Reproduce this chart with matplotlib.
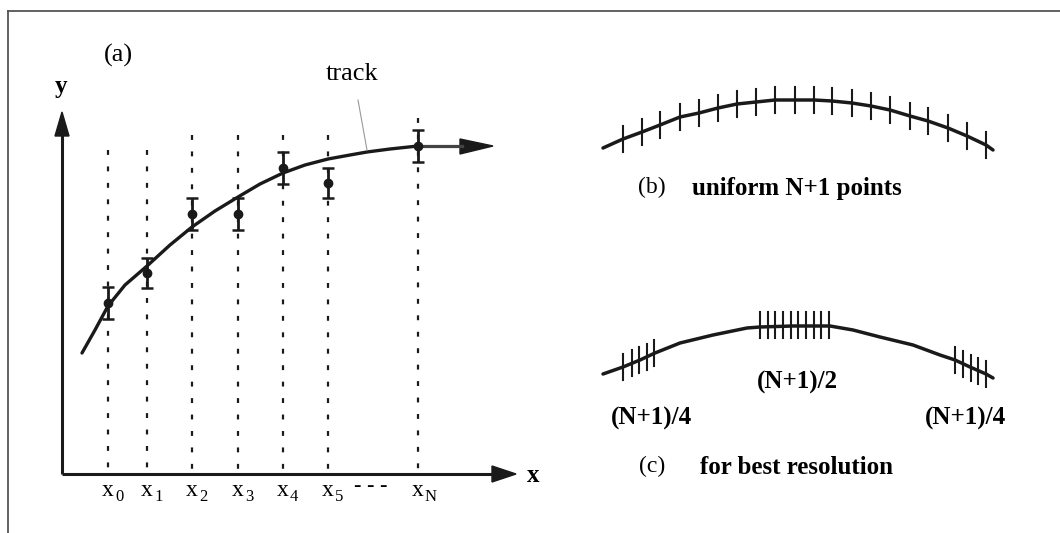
import numpy as np
import matplotlib.pyplot as plt
from matplotlib.patches import Polygon

# panel (a): sample positions, measured hits, errors, fitted track
x_pos = [108, 147, 192, 238, 283, 328, 418]
x_names = ["0", "1", "2", "3", "4", "5", "N"]
y_meas = [303, 273, 214, 214, 168, 183, 146]
y_err = [16, 15, 16, 16, 16, 15, 16]
grid_top = [150, 150, 135, 135, 135, 135, 118]

track_x = [82, 95, 108, 125, 147, 170, 192, 215, 238, 260, 283, 305, 328, 350, 367, 390, 418]
track_y = [353, 330, 306, 285, 266, 245, 227, 211, 197, 184, 173, 165, 159, 155, 152, 149, 146]

# panel (b): uniform sampling
b_x = [603, 623, 642, 660, 680, 699, 718, 737, 756, 775, 795, 814, 832, 852, 871, 890, 910, 928, 948, 967, 986, 993]
b_y = [148, 139, 132, 125, 117, 113, 108, 104, 102, 100, 100, 100, 101, 103, 106, 110, 116, 121, 128, 136, 145, 150]

# panel (c): clustered sampling
c_x = [603, 623, 640, 655, 680, 713, 747, 760, 793, 830, 853, 880, 913, 940, 955, 970, 986, 993]
c_y = [374, 367, 360, 353, 343, 335, 328, 327, 326, 326, 330, 337, 345, 355, 360, 367, 374, 378]
c_tick_x = [623, 632, 639, 647, 654,
            760, 768, 775, 783, 791, 798, 806, 814, 821, 829,
            955, 963, 971, 978, 986]
c_tick_y = [367, 363, 360, 357, 353,
            325, 325, 325, 325, 325, 325, 325, 325, 325, 325,
            360, 364, 368, 371, 374]

serif = "Liberation Serif"
ink = "#1a1a1a"

fig = plt.figure(figsize=(10.6, 5.33), dpi=100)
ax = fig.add_axes([0, 0, 1, 1])
ax.set_xlim(0, 1060)
ax.set_ylim(533, 0)
ax.axis("off")

# frame
ax.plot([8, 1060], [11, 11], color="#555555", lw=1.3)
ax.plot([8, 8], [11, 533], color="#555555", lw=1.3)

# axes of panel (a)
ax.plot([62, 62], [474, 130], color=ink, lw=2.2, solid_capstyle="butt")
ax.plot([62, 495], [474, 474], color=ink, lw=2.2, solid_capstyle="butt")
ax.add_patch(Polygon([[55, 136], [62, 112], [69, 136]], closed=True, color=ink))
ax.add_patch(Polygon([[492, 466], [516, 474], [492, 482]], closed=True, color=ink))

# dotted sample lines
for xp, top in zip(x_pos, grid_top):
    ax.plot([xp, xp], [top, 474], color=ink, lw=1.6,
            dashes=(2.2, 5.2))

# track
ax.plot(track_x, track_y, color=ink, lw=2.4, solid_capstyle="round")
ax.plot([418, 462], [146, 146], color="#444444", lw=2.3)
ax.add_patch(Polygon([[460, 139], [493, 146], [460, 154]], closed=True, color=ink))

# measurements
ax.errorbar(x_pos, y_meas, yerr=y_err, fmt="o", color=ink, ms=6,
            elinewidth=2.0, capsize=4, capthick=1.8, zorder=5)

ax.plot([358, 367], [100, 150], color="#999999", lw=0.8)
ax.text(352, 74, "track", fontsize=19, family=serif, ha="center", va="center")
ax.text(118, 55, "(a)", fontsize=19, family=serif, ha="center", va="center")
ax.text(61, 86, "y", fontsize=18, family=serif, weight="bold", ha="center", va="center")
ax.text(533, 476, "x", fontsize=18, family=serif, weight="bold", ha="center", va="center")

for xp, nm in zip(x_pos, x_names):
    ax.text(xp - 6, 496, "x", fontsize=17, family=serif, ha="left", va="baseline")
    ax.text(xp + 7, 501, nm, fontsize=12, family=serif, ha="left", va="baseline")
ax.text(371, 491, "- - -", fontsize=16, family=serif, ha="center", va="baseline")

# panel (b)
ax.plot(b_x, b_y, color=ink, lw=2.5, solid_capstyle="round")
for tx, ty in zip(b_x[1:-1], b_y[1:-1]):
    ax.plot([tx, tx], [ty - 13, ty + 13], color=ink, lw=1.5)
ax.text(652, 187, "(b)", fontsize=17, family=serif, ha="center", va="center")
ax.text(692, 188, "uniform N+1 points", fontsize=18, family=serif,
        weight="bold", ha="left", va="center")

# panel (c)
ax.plot(c_x, c_y, color=ink, lw=2.5, solid_capstyle="round")
for tx, ty in zip(c_tick_x, c_tick_y):
    ax.plot([tx, tx], [ty - 13, ty + 13], color=ink, lw=1.5)
ax.text(797, 382, "(N+1)/2", fontsize=18, family=serif, weight="bold",
        ha="center", va="center")
ax.text(651, 418, "(N+1)/4", fontsize=18, family=serif, weight="bold",
        ha="center", va="center")
ax.text(965, 418, "(N+1)/4", fontsize=18, family=serif, weight="bold",
        ha="center", va="center")
ax.text(652, 466, "(c)", fontsize=17, family=serif, ha="center", va="center")
ax.text(700, 467, "for best resolution", fontsize=18, family=serif,
        weight="bold", ha="left", va="center")

fig.savefig("out.png", dpi=100)
